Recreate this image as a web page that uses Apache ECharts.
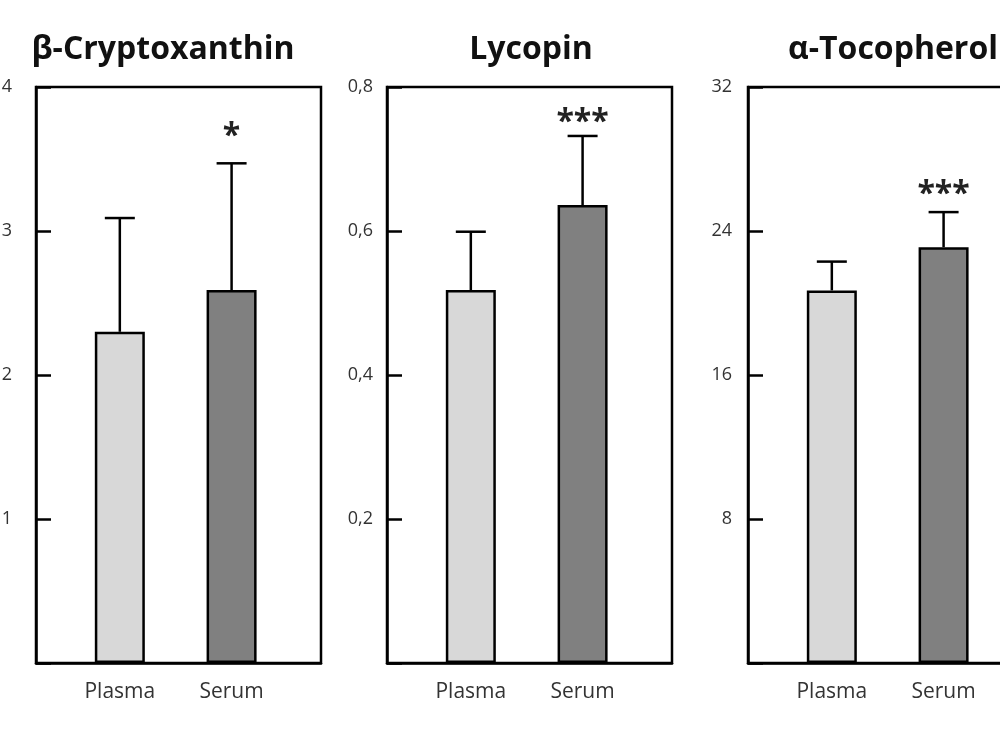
<!DOCTYPE html>
<html>
<head>
<meta charset="utf-8">
<script src="https://cdn.jsdelivr.net/npm/echarts@6/dist/echarts.min.js"></script>
<style>
  html, body { margin: 0; padding: 0; background: #fff; }
  #chart { width: 1000px; height: 750px; }
</style>
</head>
<body>
<div id="chart"></div>
<script>
// groups on the x axis and their positions on the (hidden) value scale
var groups = ['Plasma', 'Serum'];
var groupPos = [1, 2];

// beta-cryptoxanthin
var cryptoMean = [2.30, 2.59];
var cryptoSd = [0.79, 0.88];
var cryptoSig = ['', '*'];
var cryptoTicks = ['1', '2', '3', '4'];

// lycopin
var lycoMean = [0.518, 0.636];
var lycoSd = [0.081, 0.096];
var lycoSig = ['', '***'];
var lycoTicks = ['0,2', '0,4', '0,6', '0,8'];

// alpha-tocopherol
var tocoMean = [20.7, 23.1];
var tocoSd = [1.6, 1.95];
var tocoSig = ['', '***'];
var tocoTicks = ['8', '16', '24', '32'];

var panels = [
  { title: 'β-Cryptoxanthin', mean: cryptoMean, sd: cryptoSd, sig: cryptoSig, ticks: cryptoTicks, step: 1,
    left: 36, titleX: 163, labelMargin: 24, starGap: 34 },
  { title: 'Lycopin', mean: lycoMean, sd: lycoSd, sig: lycoSig, ticks: lycoTicks, step: 0.2,
    left: 387, titleX: 531, labelMargin: 14, starGap: 21 },
  { title: 'α-Tocopherol', mean: tocoMean, sd: tocoSd, sig: tocoSig, ticks: tocoTicks, step: 8,
    left: 748, titleX: 893, labelMargin: 16, starGap: 25 }
];

var fills = ['#d8d8d8', '#808080'];
var font = '"Open Sans", "Noto Sans", sans-serif';

var grids = [], xAxes = [], yAxes = [], series = [], graphics = [];

panels.forEach(function (p, k) {
  grids.push({
    left: p.left, top: 87, width: 285, height: 576,
    outerBoundsMode: 'none', containLabel: false,
    show: true, borderColor: '#000', borderWidth: 2.5, backgroundColor: 'transparent'
  });

  xAxes.push({
    gridIndex: k, type: 'value', min: 0.25, max: 2.8, interval: 0.05,
    axisLine: { show: true, lineStyle: { color: '#000', width: 2.5 } },
    axisTick: { show: false },
    splitLine: { show: false },
    axisLabel: {
      margin: 19, fontSize: 21, color: '#333', fontFamily: font,
      formatter: function (v) {
        for (var i = 0; i < groupPos.length; i++) {
          if (Math.abs(v - groupPos[i]) < 1e-6) return groups[i];
        }
        return '';
      }
    }
  });

  yAxes.push({
    gridIndex: k, type: 'value', min: 0, max: p.step * 4, interval: p.step,
    axisLine: { show: true, lineStyle: { color: '#000', width: 2.5 } },
    axisTick: { show: true, inside: true, length: 15, lineStyle: { color: '#000', width: 2.5 } },
    splitLine: { show: false },
    axisLabel: {
      margin: p.labelMargin, fontSize: 18, color: '#333', fontFamily: font,
      formatter: function (v) {
        var idx = Math.round(v / p.step) - 1;
        return idx >= 0 ? p.ticks[idx] : '';
      }
    }
  });

  series.push({
    type: 'bar', xAxisIndex: k, yAxisIndex: k, barWidth: 50,
    data: p.mean.map(function (m, i) {
      return { value: [groupPos[i], m], itemStyle: { color: fills[i] } };
    }),
    itemStyle: { borderColor: '#000', borderWidth: 2.5 },
    silent: true
  });

  series.push({
    type: 'custom', xAxisIndex: k, yAxisIndex: k, z: 5, silent: true,
    data: p.mean.map(function (m, i) { return [groupPos[i], m, p.sd[i]]; }),
    renderItem: function (params, api) {
      var x = api.value(0), m = api.value(1), e = api.value(2);
      var base = api.coord([x, m]);
      var top = api.coord([x, m + e]);
      var ls = { stroke: '#000', lineWidth: 2.5 };
      var kids = [
        { type: 'line', shape: { x1: base[0], y1: base[1], x2: top[0], y2: top[1] }, style: ls },
        { type: 'line', shape: { x1: top[0] - 15, y1: top[1], x2: top[0] + 15, y2: top[1] }, style: ls }
      ];
      var s = p.sig[params.dataIndex];
      if (s) {
        kids.push({
          type: 'text', x: top[0], y: top[1] - p.starGap + 8,
          style: { text: s, fill: '#222', fontSize: 32, fontWeight: 'bold', fontFamily: font,
                   textAlign: 'center', textVerticalAlign: 'middle' }
        });
      }
      return { type: 'group', children: kids };
    }
  });

  graphics.push({
    type: 'text', x: p.titleX, y: 50,
    style: { text: p.title, fill: '#111', fontSize: 32, fontWeight: 'bold', fontFamily: font,
             textAlign: 'center', textVerticalAlign: 'middle' }
  });
});

var chart = echarts.init(document.getElementById('chart'));
chart.setOption({
  backgroundColor: '#fff',
  animation: false,
  grid: grids,
  xAxis: xAxes,
  yAxis: yAxes,
  series: series,
  graphic: graphics
});
</script>
</body>
</html>
